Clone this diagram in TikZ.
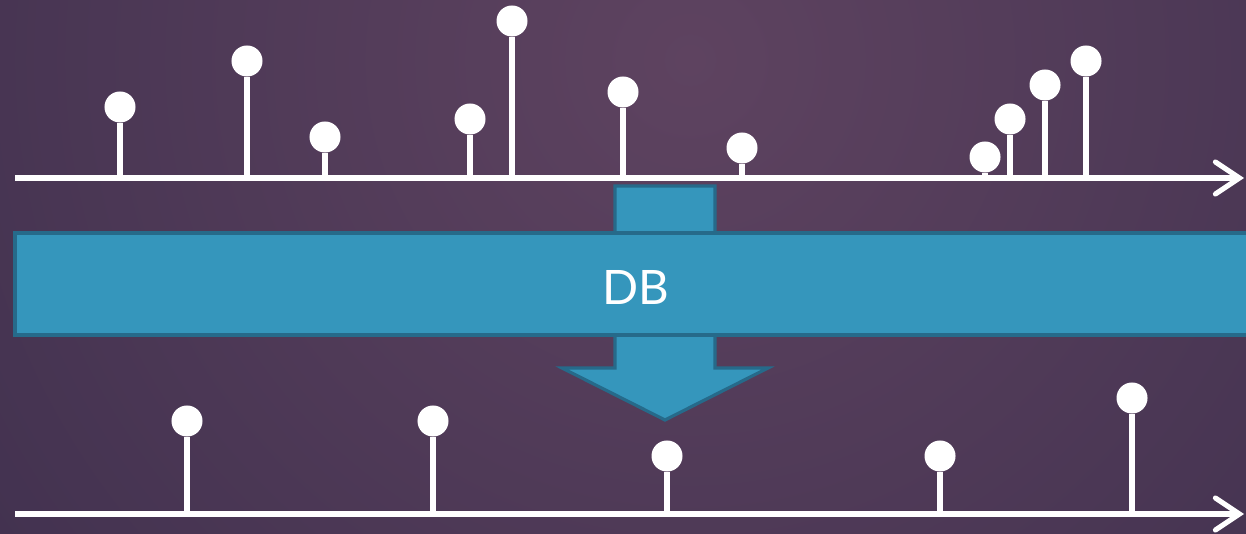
\documentclass[tikz,border=0pt]{standalone}
\usepackage{fontspec}
\newfontfamily\labelfont{Lato}
\usetikzlibrary{arrows.meta}
\definecolor{bgdark}{RGB}{60,46,76}
\definecolor{bglight}{RGB}{94,67,96}
\definecolor{dbfill}{RGB}{53,150,188}
\definecolor{dbedge}{RGB}{38,106,138}

\begin{document}
\begin{tikzpicture}[x=0.01cm,y=-0.01cm]
\tikzset{
  stem/.style={white, line width=1.45pt},
  pin/.style={circle, fill=white, inner sep=0pt, minimum size=0.31cm},
  axis/.style={white, line width=1.45pt, -{Straight Barb[length=0.24cm,width=0.32cm,line cap=round]}},
  block/.style={fill=dbfill, draw=dbedge, line width=0.9pt},
}
\useasboundingbox (0,0) rectangle (1246,534);
\clip (0,0) rectangle (1246,534);

%background
\fill[bgdark] (0,0) rectangle (1246,534);
\shade[inner color=bglight, outer color=bgdark] (690,60) circle (1050);

%axes
\coordinate (u0) at (15,178);
\coordinate (u1) at (1244,178);
\coordinate (l0) at (15,514);
\coordinate (l1) at (1244,514);
\draw[axis] (u0) -- (u1);
\draw[axis] (l0) -- (l1);

%samples before
\foreach \x/\h [count=\i] in {120/107, 247/61, 325/137, 470/119, 512/21, 623/92,
    742/148, 985/157, 1010/119, 1045/85, 1086/61}{
  \coordinate (a\i) at (\x,178);
  \node[pin] (p\i) at (\x,\h) {};
  \draw[stem] (a\i) -- (p\i);
}

%samples after
\foreach \x/\h [count=\i] in {187/421, 433/421, 667/456, 940/456, 1132/398}{
  \coordinate (b\i) at (\x,514);
  \node[pin] (q\i) at (\x,\h) {};
  \draw[stem] (b\i) -- (q\i);
}

%arrow and block
\draw[block] (615,186) -- (715,186) -- (715,368) -- (768,368) -- (665,420)
  -- (562,368) -- (615,368) -- cycle;
\draw[block] (15,233) rectangle (1262,335);
\node[text=white, font=\labelfont\fontsize{13.5}{13.5}\selectfont] (db) at (636,287) {DB};

\end{tikzpicture}
\end{document}
